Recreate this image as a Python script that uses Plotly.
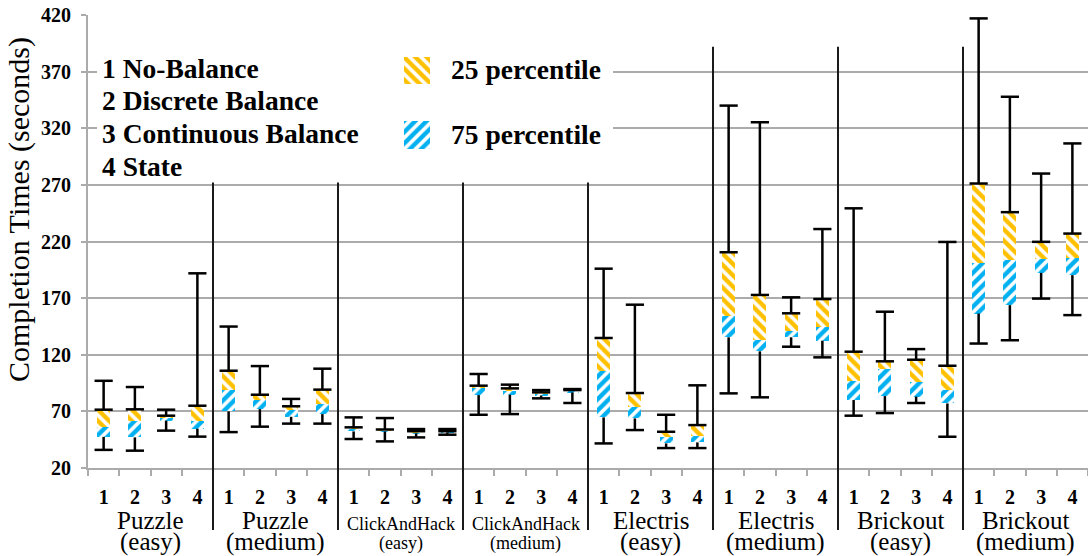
import plotly.graph_objects as go

# ---- data -------------------------------------------------------------
conditions = ["1", "2", "3", "4"]
games = ["Puzzle", "Puzzle", "ClickAndHack", "ClickAndHack",
         "Electris", "Electris", "Brickout", "Brickout"]
levels = ["(easy)", "(medium)", "(easy)", "(medium)",
          "(easy)", "(medium)", "(easy)", "(medium)"]

# completion times (seconds), 4 conditions per game/level, in order
whisker_low = [36, 35.3, 53, 47.7,        51.7, 56.5, 59.2, 59.2,
               45.6, 43.5, 47, 49.4,      67, 67.6, 81.5, 77.4,
               41.7, 53.5, 37.6, 37.6,    85.9, 82.4, 127.1, 117.7,
               66.2, 68.5, 77.4, 47.6,    129.9, 132.8, 169.6, 155]
q1 = [47.5, 47, 61.8, 54.7,               70, 72, 65.2, 67.6,
      52.3, 52.3, 50.5, 51.5,             84.4, 84.7, 84, 86.8,
      64.7, 63.8, 41.7, 42.6,             135.4, 123, 135.4, 132.4,
      80, 83.5, 83, 77,                   156.4, 163.8, 192.3, 190.3]
median = [56, 61.6, 64, 61.8,             88.6, 80, 71.2, 76.6,
          55, 53, 51.5, 52,               90.3, 88.3, 86, 88,
          105.9, 74.1, 47.6, 48.5,        154.5, 133, 140.7, 144.8,
          97.1, 107.4, 96.2, 88.8,        200.6, 203.5, 204.7, 205.6]
q3 = [71.5, 71.8, 66.2, 75,               105.9, 84.7, 74.5, 89.2,
      55.9, 54, 52.5, 52.5,               92.7, 90.3, 86.8, 88.8,
      134.8, 86.2, 52, 57.9,              210.5, 172.8, 156.6, 169.2,
      122.7, 114.2, 115.6, 110.3,         271.2, 245.9, 219.7, 227]
whisker_high = [97, 91.5, 71.5, 191.9,    144.9, 110, 81, 107.7,
                64.7, 64.1, 54.4, 54.4,   103, 93.6, 88.8, 89.7,
                196, 164.2, 67, 93,       340, 325.3, 170.7, 231,
                249.3, 158, 125, 219.6,   417, 347.8, 280, 306.6]

condition_names = ["1 No-Balance", "2 Discrete Balance",
                   "3 Continuous Balance", "4 State"]
series_names = ["25 percentile", "75 percentile"]

y_ticks = list(range(20, 421, 50))

# ---- style ------------------------------------------------------------
SERIF = "Liberation Serif"
ORANGE = "#FFC000"
BLUE = "#00B0F0"
GRID = "#ABABAB"
W, H = 1088, 556
M_L, M_R, M_T, M_B = 88, 0, 15, 88
PLOT_H = H - M_T - M_B
N = len(q1)
GROUP = len(conditions)
HATCH = dict(bgcolor="white", size=8, solidity=0.55, fillmode="replace")


def py(px):
    """paper y for a pixel row measured from the top of the page"""
    return (H - M_B - px) / PLOT_H


def px_x(px):
    """paper x for a pixel column"""
    return (px - M_L) / (W - M_L - M_R)


pos = [i + 0.5 for i in range(N)]

fig = go.Figure()

# lower half of each box: first quartile up to the median
fig.add_trace(go.Bar(
    x=pos, y=[m - a for m, a in zip(median, q1)], base=q1, width=0.42,
    marker=dict(color=BLUE, line=dict(width=0),
                pattern=dict(shape="/", fgcolor=BLUE, **HATCH)),
    name=series_names[1], showlegend=False, hoverinfo="skip"))

# upper half of each box: median up to the third quartile
fig.add_trace(go.Bar(
    x=pos, y=[b - m for b, m in zip(q3, median)], base=median, width=0.42,
    marker=dict(color=ORANGE, line=dict(width=0),
                pattern=dict(shape="\\", fgcolor=ORANGE, **HATCH)),
    name=series_names[0], showlegend=False, hoverinfo="skip"))

# whisker stems
wx, wy = [], []
for x, lo, a, b, hi in zip(pos, whisker_low, q1, q3, whisker_high):
    wx += [x, x, None, x, x, None]
    wy += [b, hi, None, a, lo, None]
fig.add_trace(go.Scatter(x=wx, y=wy, mode="lines",
                         line=dict(color="black", width=2.5),
                         showlegend=False, hoverinfo="skip"))

# whisker caps (top, box top, bottom)
fig.add_trace(go.Scatter(
    x=pos * 3, y=whisker_high + q3 + whisker_low, mode="markers",
    marker=dict(symbol="line-ew", size=13, line=dict(color="black", width=2.5)),
    showlegend=False, hoverinfo="skip"))

# hatched keys for the two series, each on its own tiny axis pair
fig.add_trace(go.Bar(x=[0], y=[1], base=[0], width=1, xaxis="x2", yaxis="y2",
                     marker=dict(color=ORANGE, line=dict(width=0),
                                 pattern=dict(shape="\\", fgcolor=ORANGE, **HATCH)),
                     showlegend=False, hoverinfo="skip"))
fig.add_trace(go.Bar(x=[0], y=[1], base=[0], width=1, xaxis="x3", yaxis="y3",
                     marker=dict(color=BLUE, line=dict(width=0),
                                 pattern=dict(shape="/", fgcolor=BLUE, **HATCH)),
                     showlegend=False, hoverinfo="skip"))

# ---- layout -----------------------------------------------------------
key_x = [px_x(404), px_x(430)]
hidden = dict(visible=False, range=[-0.5, 0.5], fixedrange=True)
hidden_y = dict(visible=False, range=[0, 1], fixedrange=True)

fig.update_layout(
    width=W, height=H,
    margin=dict(l=M_L, r=M_R, t=M_T, b=M_B),
    paper_bgcolor="white", plot_bgcolor="white",
    barmode="overlay", bargap=0,
    font=dict(family=SERIF, color="black"),
    xaxis=dict(range=[0, N], tickmode="array", tickvals=pos,
               ticktext=conditions * (N // GROUP),
               tickfont=dict(family=SERIF, size=20, weight="bold", color="black"),
               ticks="", ticklabelstandoff=10,
               showgrid=False, zeroline=False,
               showline=True, linecolor=GRID, linewidth=2,
               minor=dict(tickmode="linear", tick0=0, dtick=1, ticks="outside",
                          ticklen=6, tickwidth=2, tickcolor=GRID, showgrid=False)),
    yaxis=dict(range=[20, 420], tickmode="array", tickvals=y_ticks,
               tickfont=dict(family=SERIF, size=20, weight="bold", color="black"),
               ticks="outside", ticklen=5, tickwidth=2, tickcolor=GRID,
               ticklabelstandoff=6,
               showgrid=True, gridcolor=GRID, gridwidth=2, zeroline=False,
               showline=True, linecolor=GRID, linewidth=2),
    xaxis2=dict(domain=key_x, anchor="y2", **hidden),
    yaxis2=dict(domain=[py(84), py(57)], anchor="x2", **hidden_y),
    xaxis3=dict(domain=key_x, anchor="y3", **hidden),
    yaxis3=dict(domain=[py(149), py(121)], anchor="x3", **hidden_y),
)

# white panel behind the key text (hides the grid there)
box_bottom = 272
fig.add_shape(type="rect", xref="x", yref="y", x0=0.29, x1=16.8,
              y0=box_bottom, y1=395, fillcolor="white", line=dict(width=0),
              layer="between")

# separators between game/level groups
for k in range(1, N // GROUP):
    xs = k * GROUP
    top = box_bottom if xs < 16.8 else 392
    fig.add_shape(type="line", xref="paper", yref="paper",
                  x0=xs / N, x1=xs / N, y0=py(530), y1=(top - 20) / 400,
                  line=dict(color="#1a1a1a", width=2), layer="above")

annotations = []
# group labels under the condition numbers
for g, (game, level) in enumerate(zip(games, levels)):
    cx = (g * GROUP + GROUP / 2) / N
    small = len(game) > 10
    size = 18 if small else 25
    y1, y2 = (524, 543) if small else (520, 542)
    annotations.append(dict(x=cx, y=py(y1), xref="paper", yref="paper", text=game,
                            showarrow=False, xanchor="center", yanchor="middle",
                            font=dict(family=SERIF, size=size, color="black")))
    annotations.append(dict(x=cx, y=py(y2), xref="paper", yref="paper", text=level,
                            showarrow=False, xanchor="center", yanchor="middle",
                            font=dict(family=SERIF, size=size, color="black")))

# condition key
for i, name in enumerate(condition_names):
    annotations.append(dict(x=px_x(100), y=py(68 + i * 32.7), xref="paper", yref="paper",
                            text=name, showarrow=False, xanchor="left", yanchor="middle",
                            font=dict(family=SERIF, size=27.5, weight="bold", color="black")))

# series key labels
for name, yy in zip(series_names, [69, 134]):
    annotations.append(dict(x=px_x(449), y=py(yy), xref="paper", yref="paper",
                            text=name, showarrow=False, xanchor="left", yanchor="middle",
                            font=dict(family=SERIF, size=27.5, weight="bold", color="black")))

# y-axis title
annotations.append(dict(x=px_x(19), y=py(210), xref="paper", yref="paper",
                        text="Completion Times (seconds)", textangle=-90,
                        showarrow=False, xanchor="center", yanchor="middle",
                        font=dict(family=SERIF, size=30, color="black")))

fig.update_layout(annotations=annotations)

fig.write_html("out.html")
